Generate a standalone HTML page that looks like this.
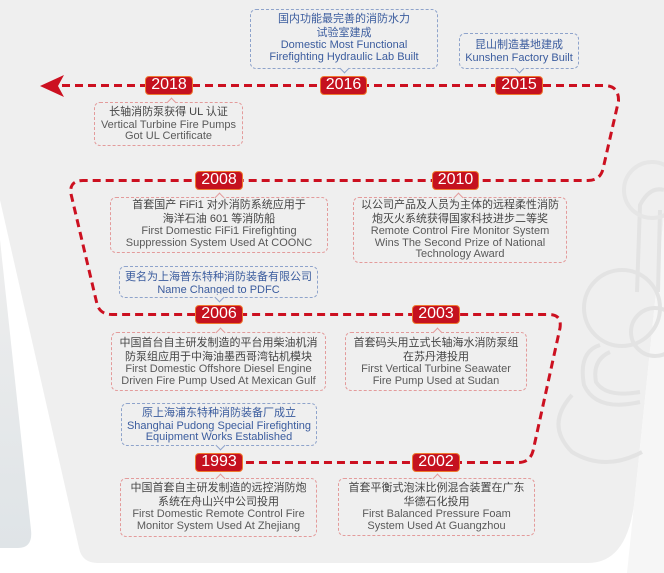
<!DOCTYPE html>
<html><head><meta charset="utf-8">
<style>
html,body{margin:0;padding:0;}
body{width:664px;height:573px;position:relative;overflow:hidden;background:#fff;font-family:"Liberation Sans","Noto Sans CJK SC",sans-serif;}
svg.bg{position:absolute;left:0;top:0;}
.c{position:absolute;box-sizing:border-box;border:1px dashed #e39b9b;border-radius:6px;text-align:center;font-size:11px;white-space:nowrap;}
.c .z{line-height:13.5px;color:#444;}
.c .e{line-height:11.5px;color:#5a5a5a;}
.c.b{border-color:#8ea3cb;}
.c.b .z,.c.b .e{color:#3b5c9e;}
.p{position:absolute;width:6px;height:6px;background:#efefef;transform:rotate(45deg);}
.p.u{top:-4px;border-left:1px solid #e39b9b;border-top:1px solid #e39b9b;}
.p.d{bottom:-4px;border-right:1px solid #8ea3cb;border-bottom:1px solid #8ea3cb;}
.y{position:absolute;height:19px;box-sizing:border-box;background:#c5111f;border:1.5px solid #ee7a30;border-radius:4px;color:#fff;font-size:16px;line-height:16px;text-align:center;}
</style></head><body>
<svg class="bg" width="664" height="573" viewBox="0 0 664 573">
  <defs>
    <linearGradient id="lg" x1="0" y1="0" x2="0" y2="1">
      <stop offset="0" stop-color="#eeeeee"/>
      <stop offset="1" stop-color="#dfe4e7"/>
    </linearGradient>
  </defs>
  <path d="M0,0 H664 V215 L634,505 Q626,563 588,563 H98 Q82,563 79,548 L0,200 Z" fill="#efefef"/>
  <path d="M0,240 L31,530 Q33,548 18,548 H0 Z" fill="url(#lg)"/>
  <path d="M664,215 L627,573 H664 Z" fill="#f6f6f6"/>
  <g fill="none" stroke="#e3e3e3" stroke-width="4">
    <path d="M637,292 L640,205 Q650,186 664,190"/>
    <path d="M658,292 L660,210"/>
    <circle cx="622" cy="308" r="38"/>
    <circle cx="655" cy="332" r="24"/>
    <path d="M600,345 Q578,352 584,385 Q596,412 640,402"/>
    <path d="M610,352 Q592,360 596,382 Q606,398 640,392"/>
    <path d="M572,395 Q545,425 572,452 Q605,472 642,452"/>
    <circle cx="652" cy="190" r="28" stroke="#e6e6e6"/>
  </g>
  <path d="M62,85.5 H604 Q619,85.5 618.5,101 L603,169 Q600,180.5 588,180.5 H83 Q69,180.5 71,194 L97,304 Q100,314.5 112,314.5 H549 Q562,314.5 560,328 L533,451 Q530,462.5 518,462.5 H243" fill="none" stroke="#cc1020" stroke-width="3" stroke-dasharray="8 5"/>
  <polygon points="40,86 64,75 58,86 64,97" fill="#cc1020"/>
</svg>

<!-- callouts -->
<div class="c b" style="left:250px;top:9px;width:188px;height:60px;padding-top:3px;">
  <div class="z">国内功能最完善的消防水力</div><div class="z">试验室建成</div>
  <div class="e">Domestic Most Functional</div><div class="e">Firefighting Hydraulic Lab Built</div>
  <div class="p d" style="left:90px;"></div>
</div>
<div class="c b" style="left:459px;top:33px;width:120px;height:36px;padding-top:5px;">
  <div class="z">昆山制造基地建成</div>
  <div class="e">Kunshen Factory Built</div>
  <div class="p d" style="left:56px;"></div>
</div>
<div class="c" style="left:94px;top:102px;width:149px;height:44px;padding-top:3px;">
  <div class="z">长轴消防泵获得 UL 认证</div>
  <div class="e">Vertical Turbine Fire Pumps</div><div class="e">Got UL Certificate</div>
  <div class="p u" style="left:73px;"></div>
</div>
<div class="c" style="left:110px;top:197px;width:218px;height:56px;padding-top:1px;">
  <div class="z">首套国产 FiFi1 对外消防系统应用于</div><div class="z">海洋石油 601 等消防船</div>
  <div class="e">First Domestic FiFi1 Firefighting</div><div class="e">Suppression System Used At COONC</div>
  <div class="p u" style="left:105px;"></div>
</div>
<div class="c" style="left:353px;top:197px;width:214px;height:66px;padding-top:1px;">
  <div class="z">以公司产品及人员为主体的远程柔性消防</div><div class="z">炮灭火系统获得国家科技进步二等奖</div>
  <div class="e">Remote Control Fire Monitor System</div><div class="e">Wins The Second Prize of National</div><div class="e">Technology Award</div>
  <div class="p u" style="left:101px;"></div>
</div>
<div class="c b" style="left:119px;top:266px;width:199px;height:32px;padding-top:4px;">
  <div class="z">更名为上海普东特种消防装备有限公司</div>
  <div class="e">Name Changed to PDFC</div>
  <div class="p d" style="left:96px;"></div>
</div>
<div class="c" style="left:111px;top:332px;width:215px;height:59px;padding-top:4px;">
  <div class="z">中国首台自主研发制造的平台用柴油机消</div><div class="z">防泵组应用于中海油墨西哥湾钻机模块</div>
  <div class="e">First Domestic Offshore Diesel Engine</div><div class="e">Driven Fire Pump Used At Mexican Gulf</div>
  <div class="p u" style="left:105px;"></div>
</div>
<div class="c" style="left:345px;top:332px;width:182px;height:59px;padding-top:4px;">
  <div class="z">首套码头用立式长轴海水消防泵组</div><div class="z">在苏丹港投用</div>
  <div class="e">First Vertical Turbine Seawater</div><div class="e">Fire Pump Used at Sudan</div>
  <div class="p u" style="left:88px;"></div>
</div>
<div class="c b" style="left:121px;top:403px;width:196px;height:43px;padding-top:3px;">
  <div class="z">原上海浦东特种消防装备厂成立</div>
  <div class="e">Shanghai Pudong Special Firefighting</div><div class="e">Equipment Works Established</div>
  <div class="p d" style="left:95px;"></div>
</div>
<div class="c" style="left:120px;top:478px;width:197px;height:59px;padding-top:3px;">
  <div class="z">中国首套自主研发制造的远控消防炮</div><div class="z">系统在舟山兴中公司投用</div>
  <div class="e">First Domestic Remote Control Fire</div><div class="e">Monitor System Used At Zhejiang</div>
  <div class="p u" style="left:96px;"></div>
</div>
<div class="c" style="left:338px;top:478px;width:197px;height:58px;padding-top:3px;">
  <div class="z">首套平衡式泡沫比例混合装置在广东</div><div class="z">华德石化投用</div>
  <div class="e">First Balanced Pressure Foam</div><div class="e">System Used At Guangzhou</div>
  <div class="p u" style="left:95px;"></div>
</div>

<!-- year badges -->
<div class="y" style="left:145px;top:76px;width:48px;">2018</div>
<div class="y" style="left:320px;top:76px;width:47px;">2016</div>
<div class="y" style="left:495px;top:76px;width:48px;">2015</div>
<div class="y" style="left:195px;top:171px;width:48px;">2008</div>
<div class="y" style="left:432px;top:171px;width:47px;">2010</div>
<div class="y" style="left:195px;top:305px;width:48px;">2006</div>
<div class="y" style="left:412px;top:305px;width:48px;">2003</div>
<div class="y" style="left:195px;top:453px;width:48px;">1993</div>
<div class="y" style="left:412px;top:453px;width:48px;">2002</div>
</body></html>
